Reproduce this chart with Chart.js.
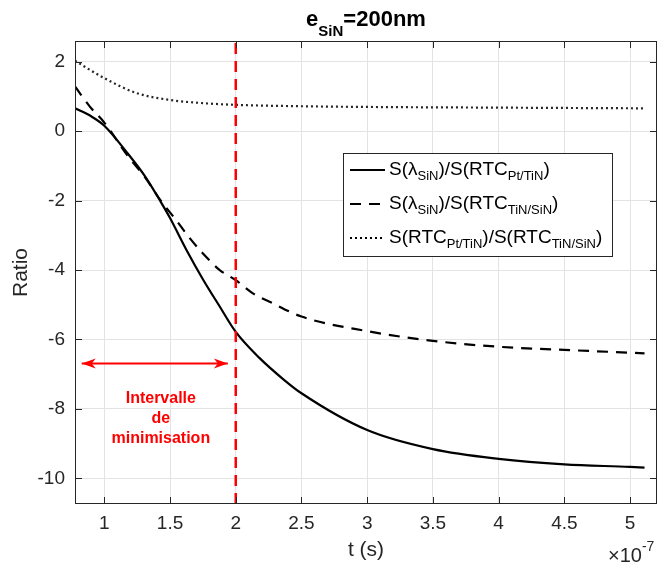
<!DOCTYPE html>
<html>
<head>
<meta charset="utf-8">
<script src="https://cdn.jsdelivr.net/npm/chart.js@4.4.1/dist/chart.umd.min.js"></script>
<style>
  body { margin: 0; background: #fff; }
  canvas { display: block; }
</style>
</head>
<body>
<canvas id="ratioChart" width="662" height="562"></canvas>
<script>
// time axis is in units of 1e-7 s (exponent drawn at bottom right)
const tSolid = [0.777, 0.9, 1.0, 1.18, 1.31, 1.435, 1.5, 1.625, 1.751, 1.878, 2.0, 2.18, 2.36, 2.5, 3.0, 3.5, 4.0, 4.5, 5.0, 5.11];
const ratioSolid = [0.66, 0.43, 0.16, -0.65, -1.3, -2.07, -2.5, -3.42, -4.27, -5.05, -5.78, -6.53, -7.14, -7.55, -8.61, -9.16, -9.44, -9.60, -9.67, -9.69];

const tDash = [0.777, 0.89, 1.0, 1.18, 1.31, 1.435, 1.536, 1.65, 1.75, 1.878, 2.0, 2.13, 2.257, 2.5, 3.0, 3.5, 4.0, 4.5, 5.0, 5.11];
const ratioDash = [1.29, 0.71, 0.25, -0.72, -1.33, -2.03, -2.51, -3.08, -3.52, -4.0, -4.29, -4.67, -4.91, -5.34, -5.76, -6.04, -6.21, -6.30, -6.38, -6.40];

const tDot = [0.777, 1.0, 1.245, 1.5, 1.75, 2.0, 2.5, 3.0, 4.0, 5.11];
const ratioDot = [2.03, 1.53, 1.10, 0.90, 0.81, 0.76, 0.72, 0.70, 0.68, 0.66];

// minimisation interval marker
const markerT = 2;
const arrowT = [0.828, 1.94];
const arrowRatio = -6.69;

const xMin = 0.777, xMax = 5.205;
const yMin = -10.74, yMax = 2.6;
const xTicks = [1, 1.5, 2, 2.5, 3, 3.5, 4, 4.5, 5];
const yTicks = [-10, -8, -6, -4, -2, 0, 2];

const seriesNames = [
    [["S(", 0], ["λ", 0], ["SiN", 1], [")/S(RTC", 0], ["Pt/TiN", 1], [")", 0]],
    [["S(", 0], ["λ", 0], ["SiN", 1], [")/S(RTC", 0], ["TiN/SiN", 1], [")", 0]],
    [["S(RTC", 0], ["Pt/TiN", 1], [")/S(RTC", 0], ["TiN/SiN", 1], [")", 0]]
];

const FONT = "'Liberation Sans', Arial, Helvetica, sans-serif";
const AXIS_COLOR = "#262626";

function toPoints(xs, ys) {
    return xs.map((x, i) => ({ x: x, y: ys[i] }));
}

// draw text with sub (1) / superscript (-1) parts, returns width
function richText(ctx, parts, x, y, size, bold, draw, subSize, subDy, supDy) {
    subSize = subSize || Math.round(size * 0.68);
    subDy = subDy || size * 0.32;
    supDy = supDy || size * 0.42;
    let cx = x;
    parts.forEach(p => {
        const s = p[1];
        ctx.font = (bold ? "bold " : "") + (s ? subSize : size) + "px " + FONT;
        const dy = s === 1 ? subDy : (s === -1 ? -supDy : 0);
        if (draw) ctx.fillText(p[0], cx, y + dy);
        cx += ctx.measureText(p[0]).width;
    });
    return cx - x;
}

const decorPlugin = {
    id: "decor",
    afterDatasetsDraw(chart) {
        const ctx = chart.ctx;
        const a = chart.chartArea;
        const xs = chart.scales.x, ys = chart.scales.y;
        ctx.save();

        // arrow heads
        const ay = ys.getPixelForValue(arrowRatio);
        const x1 = xs.getPixelForValue(arrowT[0]);
        const x2 = xs.getPixelForValue(arrowT[1]);
        ctx.fillStyle = "#ff0000";
        [[x1, 1], [x2, -1]].forEach(h => {
            const tip = h[0], d = h[1];
            ctx.beginPath();
            ctx.moveTo(tip, ay);
            ctx.lineTo(tip + d * 14, ay - 5);
            ctx.lineTo(tip + d * 10, ay);
            ctx.lineTo(tip + d * 14, ay + 5);
            ctx.closePath();
            ctx.fill();
        });

        // annotation text
        ctx.font = "bold 16px " + FONT;
        ctx.textAlign = "center";
        ctx.textBaseline = "middle";
        const tx = xs.getPixelForValue(1.43);
        const ty = ys.getPixelForValue(-7.69);
        ["Intervalle", "de", "minimisation"].forEach((s, i) => ctx.fillText(s, tx, ty + i * 20));

        // frame and inward ticks
        ctx.strokeStyle = AXIS_COLOR;
        ctx.lineWidth = 1;
        ctx.strokeRect(a.left + 0.5, a.top + 0.5, a.right - a.left - 1, a.bottom - a.top - 1);
        ctx.beginPath();
        xTicks.forEach(v => {
            const px = Math.round(xs.getPixelForValue(v)) + 0.5;
            ctx.moveTo(px, a.bottom); ctx.lineTo(px, a.bottom - 7);
            ctx.moveTo(px, a.top); ctx.lineTo(px, a.top + 7);
        });
        yTicks.forEach(v => {
            const py = Math.round(ys.getPixelForValue(v)) + 0.5;
            ctx.moveTo(a.left, py); ctx.lineTo(a.left + 7, py);
            ctx.moveTo(a.right, py); ctx.lineTo(a.right - 7, py);
        });
        ctx.stroke();

        // legend box
        const lx = 343, ly = 153, lw = 269, lh = 103;
        ctx.fillStyle = "#fff";
        ctx.fillRect(lx, ly, lw, lh);
        ctx.strokeRect(lx + 0.5, ly + 0.5, lw, lh);
        const styles = [[], [11, 8], [2, 3]];
        ctx.textAlign = "left";
        ctx.textBaseline = "middle";
        ctx.fillStyle = "#000";
        seriesNames.forEach((parts, i) => {
            const ry = ly + 17 + i * 34;
            ctx.strokeStyle = "#000";
            ctx.lineWidth = i === 2 ? 2 : 2.2;
            ctx.setLineDash(styles[i]);
            ctx.beginPath();
            ctx.moveTo(lx + 7, ry); ctx.lineTo(lx + 42, ry);
            ctx.stroke();
            ctx.setLineDash([]);
            richText(ctx, parts, lx + 46, ry, 19, false, true);
        });

        // title
        ctx.fillStyle = "#000";
        ctx.textBaseline = "alphabetic";
        const titleParts = [["e", 0], ["SiN", 1], ["=200nm", 0]];
        const tw = richText(ctx, titleParts, 0, 0, 22, true, false, 15, 10);
        richText(ctx, titleParts, (a.left + a.right) / 2 - tw / 2, 26, 22, true, true, 15, 10);

        // axis titles
        ctx.fillStyle = AXIS_COLOR;
        ctx.font = "21px " + FONT;
        ctx.textAlign = "center";
        ctx.textBaseline = "middle";
        ctx.fillText("t (s)", (a.left + a.right) / 2, 550);
        ctx.save();
        ctx.translate(21, (a.top + a.bottom) / 2);
        ctx.rotate(-Math.PI / 2);
        ctx.fillText("Ratio", 0, 0);
        ctx.restore();

        // exponent
        ctx.textAlign = "left";
        ctx.textBaseline = "alphabetic";
        richText(ctx, [["×10", 0], ["-7", -1]], 608, 562, 20, false, true, 14, 0, 11);

        ctx.restore();
    }
};

new Chart(document.getElementById("ratioChart"), {
    type: "line",
    data: {
        datasets: [
            {
                data: [{ x: markerT, y: yMin }, { x: markerT, y: yMax }],
                borderColor: "#ff0000",
                borderWidth: 2.5,
                borderDash: [11, 7],
                pointRadius: 0
            },
            {
                data: toPoints(arrowT, [arrowRatio, arrowRatio]),
                borderColor: "#ff0000",
                borderWidth: 2,
                pointRadius: 0
            },
            {
                data: toPoints(tDot, ratioDot),
                borderColor: "#262626",
                borderWidth: 2.2,
                borderDash: [2, 3],
                pointRadius: 0,
                cubicInterpolationMode: "monotone"
            },
            {
                data: toPoints(tDash, ratioDash),
                borderColor: "#000",
                borderWidth: 2.2,
                borderDash: [11, 8],
                pointRadius: 0,
                cubicInterpolationMode: "monotone"
            },
            {
                data: toPoints(tSolid, ratioSolid),
                borderColor: "#000",
                borderWidth: 2.2,
                pointRadius: 0,
                cubicInterpolationMode: "monotone"
            }
        ]
    },
    options: {
        responsive: false,
        animation: false,
        layout: { padding: { top: 41, right: 5, left: 0, bottom: 0 } },
        plugins: {
            legend: { display: false },
            tooltip: { enabled: false }
        },
        scales: {
            x: {
                type: "linear",
                min: xMin,
                max: xMax,
                afterBuildTicks: s => { s.ticks = xTicks.map(v => ({ value: v })); },
                afterFit: s => { s.height = 58; },
                grid: { color: "#e3e3e3", drawTicks: false },
                border: { display: false },
                ticks: {
                    padding: 8,
                    color: AXIS_COLOR,
                    font: { family: FONT, size: 19 },
                    maxRotation: 0,
                    autoSkip: false,
                    callback: v => String(v)
                }
            },
            y: {
                type: "linear",
                min: yMin,
                max: yMax,
                afterBuildTicks: s => { s.ticks = yTicks.map(v => ({ value: v })); },
                afterFit: s => { s.width = 75; },
                grid: { color: "#e3e3e3", drawTicks: false },
                border: { display: false },
                ticks: {
                    padding: 10,
                    color: AXIS_COLOR,
                    font: { family: FONT, size: 19 },
                    autoSkip: false,
                    callback: v => String(v)
                }
            }
        }
    },
    plugins: [decorPlugin]
});
</script>
</body>
</html>
